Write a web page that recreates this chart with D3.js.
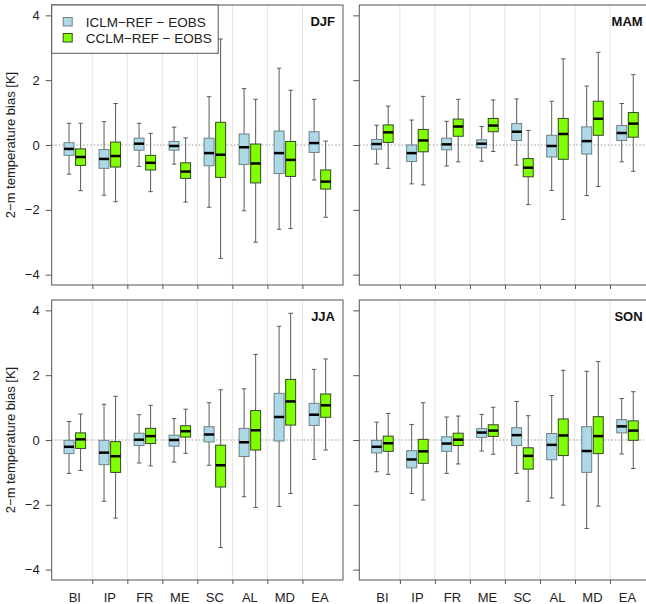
<!DOCTYPE html>
<html>
<head>
<meta charset="utf-8">
<script src="https://cdn.jsdelivr.net/npm/d3@7"></script>
<style>
  body { margin: 0; background: #fff; }
  text { font-family: "Liberation Sans", Arial, sans-serif; }
</style>
</head>
<body>
<div id="chart"></div>
<script>
const regions = ['BI', 'IP', 'FR', 'ME', 'SC', 'AL', 'MD', 'EA'];
const seasons = ['DJF', 'MAM', 'JJA', 'SON'];
const yTicks = [-4, -2, 0, 2, 4];
const seriesNames = ['ICLM\u2212REF \u2212 EOBS', 'CCLM\u2212REF \u2212 EOBS'];

// [whisker low, q1, median, q3, whisker high] per region
const iclmDJF = [[-0.90,-0.32,-0.12,0.07,0.67],[-1.55,-0.72,-0.43,-0.14,0.72],[-0.66,-0.16,0.04,0.21,0.67],[-0.59,-0.16,-0.03,0.11,0.55],
  [-1.92,-0.64,-0.25,0.21,1.49],[-2.03,-0.60,-0.07,0.34,1.74],[-2.60,-0.88,-0.25,0.43,2.37],[-1.08,-0.23,0.06,0.41,1.41]];
const cclmDJF = [[-1.41,-0.63,-0.37,-0.12,0.67],[-1.75,-0.68,-0.34,0.09,1.28],[-1.44,-0.77,-0.55,-0.32,0.36],[-1.76,-1.03,-0.82,-0.55,0.22],
  [-3.50,-1.00,-0.30,0.70,3.27],[-3.00,-1.17,-0.57,0.03,1.41],[-2.58,-0.97,-0.46,0.11,1.69],[-2.23,-1.36,-1.13,-0.77,0.12]];
const iclmMAM = [[-0.59,-0.13,0.03,0.17,0.61],[-1.20,-0.51,-0.25,0.00,0.77],[-0.65,-0.15,0.02,0.21,0.73],[-0.50,-0.09,0.04,0.16,0.57],
  [-0.62,0.14,0.41,0.66,1.42],[-1.40,-0.37,-0.03,0.30,1.35],[-1.56,-0.28,0.12,0.56,1.82],[-0.52,0.14,0.37,0.60,1.28]];
const cclmMAM = [[-0.72,0.08,0.39,0.62,1.20],[-1.23,-0.21,0.14,0.48,1.50],[-0.52,0.27,0.57,0.80,1.41],[-0.20,0.41,0.60,0.82,1.39],
  [-1.84,-0.98,-0.70,-0.42,0.45],[-2.30,-0.44,0.34,0.82,2.66],[-1.28,0.30,0.81,1.35,2.86],[-0.81,0.24,0.66,1.00,2.17]];
const iclmJJA = [[-1.03,-0.42,-0.21,-0.01,0.57],[-1.89,-0.76,-0.39,-0.01,1.10],[-0.71,-0.17,0.01,0.21,0.78],[-0.68,-0.19,0.00,0.15,0.66],
  [-0.78,-0.06,0.17,0.41,1.15],[-1.75,-0.51,-0.07,0.36,1.58],[-2.05,-0.03,0.71,1.44,3.51],[-0.60,0.45,0.78,1.13,2.18]];
const cclmJJA = [[-0.94,-0.26,0.02,0.22,0.80],[-2.41,-1.00,-0.50,-0.05,1.35],[-0.80,-0.11,0.12,0.36,1.07],[-0.41,0.09,0.27,0.44,0.95],
  [-3.32,-1.45,-0.78,-0.16,1.55],[-2.08,-0.31,0.30,0.91,2.64],[-1.65,0.46,1.19,1.87,3.91],[-0.31,0.70,1.07,1.42,2.50]];
const iclmSON = [[-0.98,-0.40,-0.21,-0.01,0.55],[-1.65,-0.86,-0.60,-0.33,0.48],[-1.03,-0.35,-0.11,0.10,0.71],[-0.34,0.08,0.23,0.35,0.79],
  [-1.03,-0.17,0.15,0.38,1.19],[-1.79,-0.61,-0.15,0.20,1.37],[-2.73,-1.00,-0.34,0.41,2.12],[-0.43,0.22,0.42,0.63,1.28]];
const cclmSON = [[-1.06,-0.35,-0.10,0.12,0.82],[-1.85,-0.72,-0.35,0.02,1.15],[-0.74,-0.17,0.01,0.21,0.74],[-0.44,0.11,0.29,0.47,1.01],
  [-1.89,-0.90,-0.49,-0.24,0.75],[-2.01,-0.48,0.14,0.65,2.15],[-2.04,-0.42,0.12,0.72,2.42],[-0.88,-0.01,0.29,0.59,1.49]];

const seasonData = {
  DJF: [iclmDJF, cclmDJF], MAM: [iclmMAM, cclmMAM],
  JJA: [iclmJJA, cclmJJA], SON: [iclmSON, cclmSON]
};

const fills = ['#ADD8E6', '#7FFF00'];
const borders = ['#6f8088', '#35452a'];
const offsets = [-0.165, 0.165];
const boxW = 0.285;

const svg = d3.select('#chart').append('svg')
  .attr('width', 646)
  .attr('height', 604);

const panelW = 291.3, panelH = 280;
const panels = [
  { s: 'DJF', x: 51.7, y: 5, left: true, bottom: false },
  { s: 'MAM', x: 359.3, y: 5, left: false, bottom: false },
  { s: 'JJA', x: 51.7, y: 300, left: true, bottom: true },
  { s: 'SON', x: 359.3, y: 300, left: false, bottom: true }
];

const x = d3.scaleLinear().domain([0.34, 8.66]).range([0, panelW]);
const y = d3.scaleLinear().domain([-4.32, 4.32]).range([panelH, 0]);

panels.forEach(p => {
  const g = svg.append('g').attr('transform', `translate(${p.x},${p.y})`);

  // separators between regions
  d3.range(1.5, 8.5, 1).forEach(v => {
    g.append('line')
      .attr('x1', x(v)).attr('x2', x(v))
      .attr('y1', 0).attr('y2', panelH)
      .attr('stroke', '#e3e3e3').attr('stroke-width', 1);
  });

  g.append('line')
    .attr('x1', 0).attr('x2', panelW)
    .attr('y1', y(0)).attr('y2', y(0))
    .attr('stroke', '#999').attr('stroke-dasharray', '1.5,2');

  seasonData[p.s].forEach((series, si) => {
    series.forEach((d, i) => {
      const cx = x(i + 1 + offsets[si]);
      const hw = (x(boxW) - x(0)) / 2;
      const capHw = hw * 0.45;
      const bg = g.append('g');
      bg.append('line')
        .attr('x1', cx).attr('x2', cx)
        .attr('y1', y(d[0])).attr('y2', y(d[1]))
        .attr('stroke', '#5a5a5a');
      bg.append('line')
        .attr('x1', cx).attr('x2', cx)
        .attr('y1', y(d[3])).attr('y2', y(d[4]))
        .attr('stroke', '#5a5a5a');
      [d[0], d[4]].forEach(v => {
        bg.append('line')
          .attr('x1', cx - capHw).attr('x2', cx + capHw)
          .attr('y1', y(v)).attr('y2', y(v))
          .attr('stroke', '#5a5a5a');
      });
      bg.append('rect')
        .attr('x', cx - hw).attr('width', hw * 2)
        .attr('y', y(d[3])).attr('height', y(d[1]) - y(d[3]))
        .attr('fill', fills[si])
        .attr('stroke', borders[si]).attr('stroke-width', 1);
      bg.append('line')
        .attr('x1', cx - hw).attr('x2', cx + hw)
        .attr('y1', y(d[2])).attr('y2', y(d[2]))
        .attr('stroke', '#000').attr('stroke-width', 2.5);
    });
  });

  // frame
  g.append('rect')
    .attr('width', panelW).attr('height', panelH)
    .attr('fill', 'none').attr('stroke', '#555').attr('stroke-width', 1);

  const yAxis = g.append('g')
    .call(d3.axisLeft(y).tickValues(yTicks).tickSize(6).tickPadding(6)
      .tickFormat(p.left ? (v => String(v).replace('-', '\u2212')) : ''));
  yAxis.select('.domain').remove();
  yAxis.selectAll('line').attr('stroke', '#555');
  yAxis.selectAll('text').attr('font-size', 13).attr('fill', '#222')
    .attr('font-family', '"Liberation Sans", Arial, sans-serif');

  const xAxis = g.append('g')
    .attr('transform', `translate(0,${panelH})`)
    .call(d3.axisBottom(x).tickValues(d3.range(1.5, 8.5, 1)).tickSize(4).tickFormat(''));
  xAxis.select('.domain').remove();
  xAxis.selectAll('line').attr('stroke', '#555');

  if (p.bottom) {
    g.selectAll('.reg')
      .data(regions)
      .join('text')
      .attr('x', (d, i) => x(i + 1))
      .attr('y', panelH + 21.5)
      .attr('text-anchor', 'middle')
      .attr('font-size', 13)
      .attr('fill', '#222')
      .text(d => d);
  }

  g.append('text')
    .attr('x', panelW - 8).attr('y', 21)
    .attr('text-anchor', 'end')
    .attr('font-size', 13).attr('font-weight', 'bold')
    .attr('fill', '#111')
    .text(p.s);

  if (p.left) {
    g.append('text')
      .attr('transform', `translate(-37,${panelH / 2}) rotate(-90)`)
      .attr('text-anchor', 'middle')
      .attr('font-size', 13)
      .attr('fill', '#222')
      .text('2\u2212m temperature bias [K]');
  }

  if (p.s === 'DJF') {
    const lg = g.append('g');
    lg.append('rect')
      .attr('x', 0).attr('y', 0)
      .attr('width', 166.5).attr('height', 48.3)
      .attr('fill', '#fff').attr('stroke', '#555');
    seriesNames.forEach((name, i) => {
      lg.append('rect')
        .attr('x', 11.5).attr('y', 12.5 + i * 16)
        .attr('width', 9).attr('height', 8.5)
        .attr('fill', fills[i]).attr('stroke', borders[i]);
      lg.append('text')
        .attr('x', 34).attr('y', 21.8 + i * 16)
        .attr('font-size', 13.5)
        .attr('fill', '#222')
        .text(name);
    });
  }
});
</script>
</body>
</html>
